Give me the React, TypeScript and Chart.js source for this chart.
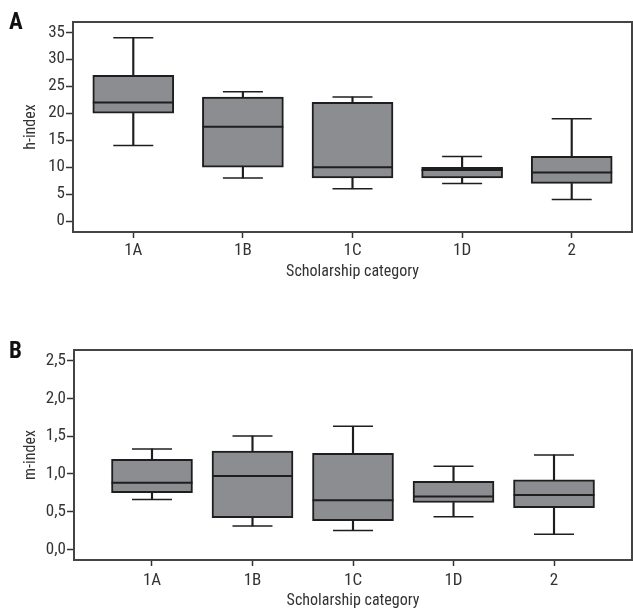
import { useEffect, useRef } from "react";
import { Chart, registerables } from "chart.js";

Chart.register(...registerables);

// ---------- data ----------
const categories = ["1A", "1B", "1C", "1D", "2"];

// Panel A: h-index
const hLow = [14, 8, 6, 7, 4];
const hQ1 = [20, 10, 8, 8, 7];
const hMedian = [22, 17.5, 10, 9.5, 9];
const hQ3 = [27, 23, 22, 10, 12];
const hHigh = [34, 24, 23, 12, 19];
const hTicks = [0, 5, 10, 15, 20, 25, 30, 35];

// Panel B: m-index
const mLow = [0.66, 0.31, 0.25, 0.43, 0.2];
const mQ1 = [0.75, 0.42, 0.38, 0.62, 0.55];
const mMedian = [0.88, 0.97, 0.65, 0.7, 0.72];
const mQ3 = [1.19, 1.3, 1.27, 0.9, 0.92];
const mHigh = [1.33, 1.5, 1.63, 1.1, 1.25];
const mTicks = [0, 0.5, 1, 1.5, 2, 2.5];

const FONT = '"Roboto Condensed", "Liberation Sans Narrow", sans-serif';
const TEXT = "#333333";
const LINE = "#1e1e1e";
const BOX = "#8b8d90";

const framePlugin = {
  id: "frame",
  afterDatasetsDraw(chart: any) {
    const { ctx, chartArea } = chart;
    const { left, top, right, bottom } = chartArea;
    ctx.save();
    ctx.strokeStyle = "#444444";
    ctx.lineWidth = 2;
    ctx.strokeRect(left, top, right - left, bottom - top);
    ctx.restore();
  },
};

type BoxProps = {
  width: number;
  height: number;
  yTitle: string;
  low: number[];
  q1: number[];
  med: number[];
  q3: number[];
  high: number[];
  yMin: number;
  yMax: number;
  yTicks: number[];
  xMin: number;
  xMax: number;
  fmt: (v: number) => string;
  padTop: number;
  axisLeft: number;
  xAxisHeight: number;
  xTickPad: number;
  xTitlePadBottom: number;
};

function BoxChart(p: BoxProps) {
  const ref = useRef<HTMLCanvasElement | null>(null);
  useEffect(() => {
    if (!ref.current) return;
    const pos = categories.map((_, i) => i + 1);
    const tickFont = { family: FONT, size: 17 };
    const titleFont = { family: FONT, size: 16 };
    const chart = new Chart(ref.current, {
      type: "bar",
      data: {
        datasets: [
          {
            type: "line",
            label: "median",
            data: pos.map((x, i) => ({ x, y: p.med[i] })),
            showLine: false,
            pointStyle: "line",
            pointRadius: 40.5,
            pointHoverRadius: 40.5,
            pointBorderWidth: 2,
            pointBorderColor: LINE,
            borderColor: LINE,
            order: 0,
          } as any,
          {
            type: "line",
            label: "caps",
            data: [
              ...pos.map((x, i) => ({ x, y: p.low[i] })),
              ...pos.map((x, i) => ({ x, y: p.high[i] })),
            ],
            showLine: false,
            pointStyle: "line",
            pointRadius: 20,
            pointHoverRadius: 20,
            pointBorderWidth: 1.5,
            pointBorderColor: LINE,
            borderColor: LINE,
            order: 1,
          } as any,
          {
            type: "bar",
            label: "box",
            data: pos.map((x, i) => ({ x, y: [p.q1[i], p.q3[i]] })),
            backgroundColor: BOX,
            borderColor: LINE,
            borderWidth: 2,
            borderSkipped: false,
            barThickness: 81,
            grouped: false,
            order: 2,
          } as any,
          {
            type: "bar",
            label: "upper whisker",
            data: pos.map((x, i) => ({ x, y: [p.q3[i], p.high[i]] })),
            backgroundColor: LINE,
            borderWidth: 0,
            barThickness: 1.5,
            grouped: false,
            order: 3,
          } as any,
          {
            type: "bar",
            label: "lower whisker",
            data: pos.map((x, i) => ({ x, y: [p.low[i], p.q1[i]] })),
            backgroundColor: LINE,
            borderWidth: 0,
            barThickness: 1.5,
            grouped: false,
            order: 3,
          } as any,
        ],
      },
      options: {
        responsive: false,
        animation: false,
        events: [],
        layout: { autoPadding: false, padding: { left: 0, right: 1, top: p.padTop, bottom: 0 } },
        plugins: { legend: { display: false }, tooltip: { enabled: false } },
        scales: {
          x: {
            type: "linear",
            min: p.xMin,
            max: p.xMax,
            offset: false,
            afterBuildTicks: (s: any) => {
              s.ticks = pos.map((v) => ({ value: v }));
            },
            afterFit: (s: any) => {
              s.height = p.xAxisHeight;
              s.paddingLeft = 0;
              s.paddingRight = 0;
            },
            ticks: {
              callback: (v: any) => categories[Math.round(Number(v)) - 1] ?? "",
              font: tickFont,
              color: TEXT,
              padding: p.xTickPad,
              maxRotation: 0,
              autoSkip: false,
            },
            grid: {
              display: true,
              offset: false,
              drawOnChartArea: false,
              drawTicks: true,
              tickLength: 6,
              tickWidth: 1.5,
              tickColor: "#333333",
            },
            border: { display: true, color: "#444444", width: 2 },
            title: {
              display: true,
              text: "Scholarship category",
              font: titleFont,
              color: TEXT,
              padding: { top: 0, bottom: p.xTitlePadBottom },
            },
          },
          y: {
            type: "linear",
            min: p.yMin,
            max: p.yMax,
            afterBuildTicks: (s: any) => {
              s.ticks = p.yTicks.map((v) => ({ value: v }));
            },
            afterFit: (s: any) => {
              s.width = p.axisLeft;
              s.paddingTop = 0;
              s.paddingBottom = 0;
            },
            ticks: {
              callback: (v: any) => p.fmt(Number(v)),
              font: tickFont,
              color: TEXT,
              padding: 1,
            },
            grid: {
              display: true,
              drawOnChartArea: false,
              drawTicks: true,
              tickLength: 7,
              tickWidth: 1.5,
              tickColor: "#333333",
            },
            border: { display: true, color: "#444444", width: 2 },
            title: {
              display: true,
              text: p.yTitle,
              font: titleFont,
              color: TEXT,
              padding: { top: 21, bottom: 0 },
            },
          },
        },
      } as any,
      plugins: [framePlugin],
    });
    return () => chart.destroy();
  }, []);
  return (
    <canvas
      ref={ref}
      width={p.width}
      height={p.height}
      style={{ display: "block", width: p.width, height: p.height }}
    />
  );
}

const panelLabel: React.CSSProperties = {
  position: "absolute",
  left: 9,
  fontFamily: FONT,
  fontWeight: "bold",
  fontSize: 23,
  lineHeight: "23px",
  color: "#111",
};

export default function App() {
  return (
    <div
      style={{
        position: "fixed",
        left: 0,
        top: 0,
        width: 633,
        height: 608,
        overflow: "hidden",
        background: "#ffffff",
      }}
    >
      <div style={{ position: "absolute", left: 0, top: 0 }}>
        <BoxChart
          width={633}
          height={300}
          yTitle="h-index"
          low={hLow}
          q1={hQ1}
          med={hMedian}
          q3={hQ3}
          high={hHigh}
          yMin={-2}
          yMax={36.9}
          yTicks={hTicks}
          xMin={0.45}
          xMax={5.55}
          fmt={(v) => String(v)}
          padTop={22}
          axisLeft={73}
          xAxisHeight={68}
          xTickPad={3}
          xTitlePadBottom={18}
        />
      </div>
      <div style={{ position: "absolute", left: 0, top: 300 }}>
        <BoxChart
          width={633}
          height={320}
          yTitle="m-index"
          low={mLow}
          q1={mQ1}
          med={mMedian}
          q3={mQ3}
          high={mHigh}
          yMin={-0.142}
          yMax={2.64}
          yTicks={mTicks}
          xMin={0.224}
          xMax={5.776}
          fmt={(v) => v.toFixed(1).replace(".", ",")}
          padTop={50}
          axisLeft={74}
          xAxisHeight={60}
          xTickPad={5}
          xTitlePadBottom={9}
        />
      </div>
      <div style={{ ...panelLabel, top: 10 }}>A</div>
      <div style={{ ...panelLabel, top: 339 }}>B</div>
    </div>
  );
}
